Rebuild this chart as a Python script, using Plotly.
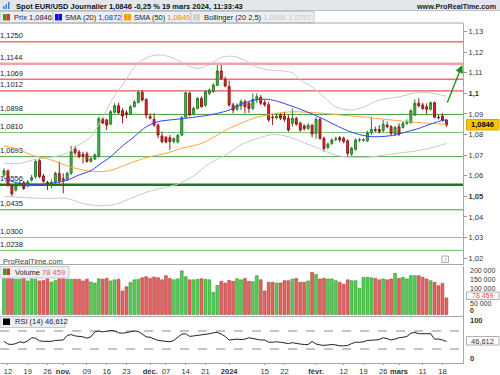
import pandas as pd
import plotly.graph_objects as go

# ---------------- data ----------------
holidays = ["2023-12-25", "2024-01-01"]
dates = [d.strftime("%Y-%m-%d") for d in pd.bdate_range("2023-10-11", "2024-03-19")
         if d.strftime("%Y-%m-%d") not in holidays]

opens = [1.0604, 1.0623, 1.0550, 1.0531, 1.0558, 1.0567, 1.0550, 1.0579, 1.0596, 1.0673,
         1.0599, 1.0568, 1.0562, 1.0571, 1.0612, 1.0586, 1.0583, 1.0612, 1.0732, 1.0715,
         1.0704, 1.0706, 1.0670, 1.0681, 1.0693, 1.0876, 1.0871, 1.0851, 1.0908, 1.0940,
         1.0916, 1.0906, 1.0900, 1.0935, 1.0955, 1.1005, 1.0971, 1.0887, 1.0874, 1.0846,
         1.0793, 1.0787, 1.0785, 1.0766, 1.0764, 1.0798, 1.0884, 1.1000, 1.0898, 1.0927,
         1.0976, 1.0942, 1.1000, 1.1008, 1.1039, 1.1109, 1.1068, 1.1033, 1.0944, 1.0923,
         1.0939, 1.0960, 1.0952, 1.0927, 1.0971, 1.0981, 1.0955, 1.0945, 1.0884, 1.0882,
         1.0895, 1.0890, 1.0879, 1.0855, 1.0879, 1.0855, 1.0842, 1.0830, 1.0845, 1.0806,
         1.0874, 1.0782, 1.0738, 1.0757, 1.0777, 1.0785, 1.0782, 1.0770, 1.0706, 1.0728,
         1.0774, 1.0772, 1.0770, 1.0809, 1.0825, 1.0825, 1.0819, 1.0846, 1.0838, 1.0803,
         1.0838, 1.0835, 1.0855, 1.0858, 1.0895, 1.0952, 1.0944, 1.0935, 1.0923, 1.0955,
         1.0884, 1.0890, 1.0871]
highs = [1.0636, 1.0631, 1.0555, 1.0567, 1.0576, 1.0576, 1.0579, 1.0604, 1.0680, 1.0683,
         1.0609, 1.0576, 1.0583, 1.0620, 1.0669, 1.0612, 1.0620, 1.0745, 1.0745, 1.0725,
         1.0717, 1.0717, 1.0693, 1.0709, 1.0887, 1.0884, 1.0877, 1.0919, 1.0952, 1.0955,
         1.0927, 1.0919, 1.0944, 1.0968, 1.1013, 1.1016, 1.0976, 1.0903, 1.0903, 1.0855,
         1.0814, 1.0793, 1.0798, 1.0787, 1.0803, 1.0890, 1.1008, 1.1008, 1.0935, 1.0981,
         1.0984, 1.1016, 1.1024, 1.1049, 1.1138, 1.1138, 1.1081, 1.1062, 1.0955, 1.0952,
         1.0971, 1.0971, 1.0960, 1.1000, 1.1000, 1.0992, 1.0968, 1.0960, 1.0900, 1.0903,
         1.0906, 1.0911, 1.0895, 1.0927, 1.0887, 1.0863, 1.0850, 1.0855, 1.0851, 1.0884,
         1.0884, 1.0790, 1.0761, 1.0782, 1.0790, 1.0793, 1.0790, 1.0777, 1.0741, 1.0782,
         1.0783, 1.0782, 1.0819, 1.0887, 1.0838, 1.0846, 1.0871, 1.0863, 1.0846, 1.0842,
         1.0855, 1.0863, 1.0874, 1.0923, 1.0971, 1.0976, 1.0955, 1.0952, 1.0960, 1.0960,
         1.0895, 1.0903, 1.0874]
lows = [1.0592, 1.0547, 1.0499, 1.0523, 1.0547, 1.0531, 1.0544, 1.0571, 1.0586, 1.0588,
        1.0567, 1.0531, 1.0539, 1.0560, 1.0563, 1.0515, 1.0576, 1.0604, 1.0701, 1.0685,
        1.0660, 1.0664, 1.0664, 1.0677, 1.0690, 1.0851, 1.0822, 1.0846, 1.0903, 1.0900,
        1.0855, 1.0879, 1.0895, 1.0931, 1.0952, 1.0961, 1.0879, 1.0874, 1.0838, 1.0782,
        1.0757, 1.0757, 1.0725, 1.0757, 1.0757, 1.0793, 1.0879, 1.0890, 1.0893, 1.0923,
        1.0931, 1.0935, 1.0992, 1.1003, 1.1036, 1.1065, 1.1029, 1.0935, 1.0903, 1.0916,
        1.0919, 1.0903, 1.0906, 1.0919, 1.0952, 1.0944, 1.0935, 1.0863, 1.0846, 1.0874,
        1.0871, 1.0861, 1.0814, 1.0838, 1.0843, 1.0814, 1.0819, 1.0822, 1.0787, 1.0780,
        1.0774, 1.0717, 1.0728, 1.0749, 1.0767, 1.0764, 1.0757, 1.0693, 1.0696, 1.0722,
        1.0764, 1.0766, 1.0764, 1.0798, 1.0812, 1.0806, 1.0812, 1.0830, 1.0798, 1.0793,
        1.0793, 1.0829, 1.0846, 1.0851, 1.0890, 1.0932, 1.0919, 1.0900, 1.0916, 1.0879,
        1.0874, 1.0863, 1.0838]
closes = [1.0625, 1.0555, 1.0512, 1.0554, 1.0563, 1.0539, 1.0570, 1.0591, 1.0669, 1.0596,
          1.0573, 1.0565, 1.0567, 1.0612, 1.0576, 1.0579, 1.0612, 1.0717, 1.0712, 1.0693,
          1.0696, 1.0669, 1.0683, 1.0701, 1.0877, 1.0856, 1.0846, 1.0911, 1.0940, 1.0906,
          1.0890, 1.0897, 1.0935, 1.0958, 1.1005, 1.0968, 1.0895, 1.0880, 1.0846, 1.0798,
          1.0766, 1.0764, 1.0766, 1.0780, 1.0796, 1.0882, 1.1003, 1.0895, 1.0927, 1.0976,
          1.0935, 1.1008, 1.1016, 1.1041, 1.1109, 1.1073, 1.1036, 1.0944, 1.0919, 1.0944,
          1.0960, 1.0935, 1.0927, 1.0971, 1.0984, 1.0952, 1.0945, 1.0871, 1.0882, 1.0890,
          1.0879, 1.0874, 1.0822, 1.0879, 1.0851, 1.0822, 1.0829, 1.0845, 1.0803, 1.0874,
          1.0782, 1.0733, 1.0754, 1.0774, 1.0779, 1.0774, 1.0766, 1.0709, 1.0733, 1.0774,
          1.0775, 1.0775, 1.0809, 1.0825, 1.0821, 1.0814, 1.0850, 1.0838, 1.0806, 1.0835,
          1.0803, 1.0855, 1.0863, 1.0916, 1.0952, 1.0940, 1.0927, 1.0923, 1.0955, 1.0884,
          1.0882, 1.0871, 1.0846]
volumes = [175000, 172000, 172000, 168000, 168000, 175000, 160000, 170000, 168000, 160000,
           162000, 170000, 155000, 162000, 170000, 172000, 168000, 168000, 168000, 168000,
           160000, 168000, 155000, 150000, 170000, 168000, 172000, 160000, 165000, 168000,
           112000, 132000, 152000, 165000, 168000, 175000, 180000, 172000, 178000, 175000,
           165000, 185000, 172000, 165000, 170000, 208000, 180000, 165000, 165000, 168000,
           170000, 168000, 165000, 106000, 138000, 158000, 150000, 162000, 158000, 170000,
           165000, 172000, 158000, 156000, 185000, 165000, 112000, 153000, 153000, 150000,
           150000, 161000, 161000, 169000, 172000, 153000, 153000, 160000, 201000, 191000,
           169000, 172000, 169000, 169000, 161000, 153000, 144000, 165000, 161000, 161000,
           125000, 177000, 177000, 175000, 172000, 165000, 169000, 165000, 169000, 196000,
           172000, 177000, 169000, 185000, 185000, 185000, 177000, 169000, 161000, 153000,
           137000, 148000, 78459]
rsi = [47, 41, 40, 42, 46, 44, 48, 55, 54, 48, 47, 47, 47, 49, 50, 50, 60, 62, 59, 58,
       57, 54, 57, 68, 70, 68, 69, 71, 70, 66, 65, 66, 68, 70, 69, 63, 57, 56, 53, 49,
       48, 47, 46, 49, 55, 63, 64, 58, 59, 60, 62, 63, 64, 66, 67, 63, 58, 50, 51, 52,
       51, 52, 55, 53, 52, 50, 50, 45, 45, 46, 45, 43, 42, 44, 42, 41, 40, 40, 47, 41,
       39, 38, 39, 40, 39, 37, 37, 38, 42, 45, 45, 46, 49, 49, 50, 51, 55, 53, 50, 52,
       55, 56, 58, 65, 67, 64, 64, 63, 64, 52, 52, 50, 46.612]

sma20_idx = [0, 3, 6, 10, 14, 16, 19, 22, 24, 27, 30, 33, 36, 39, 42, 45, 48, 51, 54, 57,
             60, 63, 65, 67, 69, 72, 75, 78, 81, 84, 87, 90, 93, 96, 99, 102, 105, 108, 110, 112]
sma20_val = [1.0588, 1.0567, 1.0560, 1.0560, 1.0570, 1.0579, 1.0604, 1.0625, 1.0652, 1.0693,
             1.0745, 1.0790, 1.0838, 1.0863, 1.0871, 1.0877, 1.0884, 1.0892, 1.0903, 1.0919,
             1.0947, 1.0966, 1.0971, 1.0971, 1.0963, 1.0944, 1.0923, 1.0900, 1.0874, 1.0845,
             1.0819, 1.0800, 1.0790, 1.0791, 1.0798, 1.0814, 1.0830, 1.0851, 1.0864, 1.0872]
sma50_idx = [0, 4, 7, 12, 16, 20, 24, 27, 33, 37, 41, 45, 50, 54, 57, 60, 64, 69, 73, 77,
             81, 85, 90, 94, 98, 102, 107, 111, 112]
sma50_val = [1.0746, 1.0725, 1.0701, 1.0677, 1.0648, 1.0628, 1.0620, 1.0626, 1.0669, 1.0693,
             1.0709, 1.0733, 1.0757, 1.0798, 1.0830, 1.0855, 1.0884, 1.0903, 1.0911, 1.0908,
             1.0903, 1.0895, 1.0887, 1.0879, 1.0871, 1.0863, 1.0855, 1.0851, 1.0849]
boll_up_idx = [0, 4, 8, 12, 16, 19, 22, 24, 26, 28, 30, 32, 34, 37, 40, 43, 46, 49, 52, 55,
               58, 61, 64, 67, 70, 73, 75, 78, 81, 84, 88, 91, 95, 100, 104, 108, 112]
boll_up_val = [1.0660, 1.0660, 1.0680, 1.0690, 1.0710, 1.0750, 1.0790, 1.0850, 1.0920, 1.0990,
               1.1040, 1.1100, 1.1147, 1.1180, 1.1186, 1.1170, 1.1140, 1.1120, 1.1140, 1.1175,
               1.1180, 1.1160, 1.1128, 1.1114, 1.1110, 1.1100, 1.1065, 1.1031, 1.0983, 1.0934,
               1.0919, 1.0934, 1.0968, 1.0983, 1.1002, 1.1002, 1.0986]
boll_lo_idx = [0, 10, 16, 20, 24, 28, 32, 36, 40, 44, 48, 52, 56, 60, 64, 68, 72, 76, 80, 84,
               88, 92, 96, 100, 104, 108, 112]
boll_lo_val = [1.0500, 1.0490, 1.0490, 1.0465, 1.0455, 1.0460, 1.0490, 1.0520, 1.0540, 1.0560,
               1.0600, 1.0660, 1.0700, 1.0750, 1.0780, 1.0800, 1.0790, 1.0760, 1.0730, 1.0700,
               1.0690, 1.0690, 1.0700, 1.0710, 1.0720, 1.0735, 1.0757]

levels = [1.1250, 1.1144, 1.1069, 1.1012, 1.0898, 1.0810, 1.0693, 1.0556, 1.0435, 1.0300, 1.0238]
level_labels = ["1,1250", "1,1144", "1,1069", "1,1012", "1,0898", "1,0810", "1,0693",
                "1,0556", "1,0435", "1,0300", "1,0238"]
level_colors = ["#e8292b", "#f3a3a3", "#e8292b", "#e8292b", "#3d9c3d", "#7ec27e", "#4ea64e",
                "#1d7a1d", "#3d9c3d", "#86c786", "#6cb86c"]
level_widths = [1, 2.5, 1, 1, 1, 1, 1, 2.5, 1, 1, 1]

price_ticks = [1.02, 1.03, 1.04, 1.05, 1.06, 1.07, 1.08, 1.09, 1.10, 1.11, 1.12, 1.13]
price_tick_text = ["1,02", "1,03", "1,04", "<b>1,05</b>", "1,06", "1,07", "1,08", "1,09",
                   "<b>1,1</b>", "1,11", "1,12", "1,13"]
date_ticks = ["2023-10-12", "2023-10-19", "2023-10-26", "2023-11-01", "2023-11-09",
              "2023-11-16", "2023-11-23", "2023-12-01", "2023-12-07", "2023-12-14",
              "2023-12-21", "2024-01-02", "2024-01-15", "2024-01-22", "2024-02-01",
              "2024-02-12", "2024-02-19", "2024-02-26", "2024-03-01", "2024-03-11", "2024-03-18"]
date_tick_text = ["12", "19", "26", "<b>nov.</b>", "09", "16", "23", "<b>déc.</b>", "07", "14", "21",
                  "<b>2024</b>", "15", "22", "<b>févr.</b>", "12", "19", "26", "<b>mars</b>", "11", "18"]
vol_tick_text = ["200 000", "150 000", "100 000", "50 000", "<b>0</b>"]
arrow_from = (112.1, 1.0949)
arrow_to = (116.0, 1.1138)

# ---------------- figure ----------------
W, H = 500, 375
FONT = "Liberation Sans, Arial, sans-serif"


def px(x):
    return x / W


def py(y):
    return 1 - y / H


fig = go.Figure()

up_col, dn_col = "#3cc43c", "#e42a2a"
vol_colors = ["#55cc55" if c >= o else "#e46262" for o, c in zip(opens, closes)]
vol_lines = ["#2f9a2f" if c >= o else "#b23a3a" for o, c in zip(opens, closes)]

fig.add_trace(go.Candlestick(x=dates, open=opens, high=highs, low=lows, close=closes,
                             increasing=dict(line=dict(color="#2c7a2c", width=1), fillcolor=up_col),
                             decreasing=dict(line=dict(color="#8e1c1c", width=1), fillcolor=dn_col),
                             whiskerwidth=0, xaxis="x", yaxis="y"))

for xs, ys in [(boll_up_idx, boll_up_val), (boll_lo_idx, boll_lo_val)]:
    fig.add_trace(go.Scatter(x=[dates[i] for i in xs], y=ys, mode="lines",
                             line=dict(color="#c9c9c9", width=1, shape="spline", smoothing=0.8),
                             xaxis="x", yaxis="y", hoverinfo="skip"))

fig.add_trace(go.Scatter(x=[dates[i] for i in sma50_idx], y=sma50_val, mode="lines",
                         line=dict(color="#ffa53a", width=1, shape="spline", smoothing=0.8),
                         xaxis="x", yaxis="y"))
fig.add_trace(go.Scatter(x=[dates[i] for i in sma20_idx], y=sma20_val, mode="lines",
                         line=dict(color="#3a3aff", width=1, shape="spline", smoothing=0.8),
                         xaxis="x", yaxis="y"))

fig.add_trace(go.Bar(x=dates, y=volumes, marker=dict(color=vol_colors, line=dict(color=vol_lines, width=0.6)),
                     xaxis="x2", yaxis="y2"))

fig.add_trace(go.Scatter(x=dates, y=rsi, mode="lines", line=dict(color="#222222", width=1),
                         xaxis="x3", yaxis="y3"))

xr = [-1.01, 116.2]
common_x = dict(type="category", categoryorder="array", categoryarray=dates, range=xr,
                domain=[0, px(463)], showgrid=False, zeroline=False,
                showticklabels=False, ticks="", showline=True, linecolor="#a8a8a8", linewidth=1,
                rangeslider=dict(visible=False), fixedrange=True)

fig.update_layout(
    width=W, height=H, margin=dict(l=0, r=0, t=0, b=0, pad=0),
    paper_bgcolor="white", plot_bgcolor="white", showlegend=False,
    font=dict(family=FONT, size=7.5, color="#333"),
    bargap=0.28,
    xaxis=dict(common_x, anchor="y"),
    xaxis2=dict(common_x, anchor="y2", matches="x"),
    xaxis3=dict(common_x, anchor="y3", matches="x", showticklabels=True, tickvals=date_ticks,
                ticktext=date_tick_text, ticks="outside", ticklen=1, tickcolor="#999",
                tickangle=0, tickfont=dict(size=7.5, color="#333", family=FONT)),
    yaxis=dict(domain=[py(264), py(23)], range=[1.01718, 1.13417], side="right", anchor="x",
               tickvals=price_ticks, ticktext=price_tick_text, ticks="outside", ticklen=3,
               tickcolor="#999", tickfont=dict(size=7.5, color="#333", family=FONT),
               showgrid=False, zeroline=False, showline=True, linecolor="#a8a8a8", fixedrange=True),
    yaxis2=dict(domain=[py(315.5), py(266)], range=[-4762, 230957], side="right", anchor="x2",
                showticklabels=False, showgrid=False, zeroline=False, showline=True,
                linecolor="#a8a8a8", fixedrange=True),
    yaxis3=dict(domain=[py(363), py(316)], range=[-1.11, 103.3], side="right", anchor="x3",
                showticklabels=False, showgrid=False, zeroline=False, showline=True,
                linecolor="#a8a8a8", fixedrange=True),
)

shapes = []
for lv, lb, c, w in zip(levels, level_labels, level_colors, level_widths):
    shapes.append(dict(type="line", xref="x domain", yref="y", x0=0, x1=1, y0=lv, y1=lv,
                       layer="below", line=dict(color=c, width=w),
                       label=dict(text=lb, textposition="start", yanchor="bottom", padding=2,
                                  font=dict(size=7.5, color="#222", family=FONT))))
for lv in [70, 30]:
    shapes.append(dict(type="line", xref="x3 domain", yref="y3", x0=0, x1=1, y0=lv, y1=lv,
                       line=dict(color="#8a8a8a", width=1, dash="dash"), layer="below"))
shapes.append(dict(type="rect", xref="paper", yref="paper", x0=0, x1=1, y0=py(10.5), y1=1,
                   fillcolor="#e3e7eb", line=dict(width=0), layer="below"))
shapes.append(dict(type="line", xref="paper", yref="paper", x0=0, x1=1, y0=py(10.5), y1=py(10.5),
                   line=dict(color="#b9c1c8", width=1)))
for x0, x1 in [(0, 53), (53, 122), (122, 191), (191, 314)]:
    shapes.append(dict(type="rect", xref="paper", yref="paper", x0=px(x0), x1=px(x1),
                       y0=py(23), y1=py(11.5), fillcolor="#eceff2",
                       line=dict(color="#c3c9cf", width=1)))
shapes.append(dict(type="line", xref="paper", yref="paper", x0=0, x1=px(463), y0=py(23), y1=py(23),
                   line=dict(color="#a8a8a8", width=1)))
icons = [(3, "#2fa02f", "#e03030"), (55, "#1010ee", "#1010ee"), (124, "#ff9a20", "#ff9a20"),
         (193, "#d0d0d0", "#d0d0d0")]
for x0, c1, c2 in icons:
    shapes.append(dict(type="rect", xref="paper", yref="paper", x0=px(x0), x1=px(x0 + 3.5),
                       y0=py(20.5), y1=py(14), fillcolor=c1, line=dict(width=0)))
    shapes.append(dict(type="rect", xref="paper", yref="paper", x0=px(x0 + 3.5), x1=px(x0 + 7),
                       y0=py(20.5), y1=py(14), fillcolor=c2, line=dict(width=0)))
for k, hgt in enumerate([3, 5, 7]):
    shapes.append(dict(type="rect", xref="paper", yref="paper", x0=px(3 + 2.5 * k), x1=px(4.5 + 2.5 * k),
                       y0=py(9), y1=py(9 - hgt), fillcolor="#3a7fd0", line=dict(width=0)))
shapes.append(dict(type="rect", xref="paper", yref="paper", x0=px(0), x1=px(69), y0=py(278), y1=py(266.5),
                   fillcolor="#eceff2", line=dict(color="#c3c9cf", width=1)))
shapes.append(dict(type="rect", xref="paper", yref="paper", x0=px(3), x1=px(6.5), y0=py(275), y1=py(268.5),
                   fillcolor="#2fa02f", line=dict(width=0)))
shapes.append(dict(type="rect", xref="paper", yref="paper", x0=px(6.5), x1=px(10), y0=py(275), y1=py(268.5),
                   fillcolor="#e03030", line=dict(width=0)))
shapes.append(dict(type="rect", xref="paper", yref="paper", x0=px(0), x1=px(65), y0=py(327.5), y1=py(316.5),
                   fillcolor="#eceff2", line=dict(color="#c3c9cf", width=1)))
shapes.append(dict(type="rect", xref="paper", yref="paper", x0=px(3), x1=px(10), y0=py(325), y1=py(318.5),
                   fillcolor="#000000", line=dict(width=0)))
shapes.append(dict(type="rect", xref="paper", yref="paper", x0=px(466.5), x1=px(499), y0=py(130), y1=py(119.5),
                   fillcolor="#f7c600", line=dict(color="#d8a800", width=1)))
shapes.append(dict(type="rect", xref="paper", yref="paper", x0=px(466.5), x1=px(499), y0=py(299.5), y1=py(292),
                   fillcolor="white", line=dict(color="#b0b0b0", width=1)))
shapes.append(dict(type="rect", xref="paper", yref="paper", x0=px(466.5), x1=px(499), y0=py(345), y1=py(336.5),
                   fillcolor="white", line=dict(color="#b0b0b0", width=1)))
shapes.append(dict(type="rect", xref="paper", yref="paper", x0=px(442), x1=px(448.5), y0=py(262.5), y1=py(256),
                   fillcolor="white", line=dict(color="#aaaaaa", width=1)))
fig.update_layout(shapes=shapes)

ann = []


def txt(x, y, s, size=7.5, color="#222", bold=False, anchor="left"):
    if bold:
        s = "<b>" + s + "</b>"
    ann.append(dict(x=px(x), y=py(y), xref="paper", yref="paper", text=s, showarrow=False,
                    xanchor=anchor, yanchor="middle", font=dict(size=size, color=color, family=FONT)))


txt(14, 6, "Spot EUR/USD Journalier 1,0846 -0,25 % 19 mars 2024, 11:33:43", bold=True, color="#111")
txt(498, 6, "www.ProRealTime.com", size=7.2, bold=True, color="#222", anchor="right")
txt(12, 17.5, "Prix 1,0846")
txt(63, 17.5, "SMA (20) <span style='color:#1a1aff'>1,0872</span>")
txt(132, 17.5, "SMA (50) <span style='color:#f08a10'>1,0849</span>")
txt(202, 17.5, "Bollinger (20 2,5) <span style='color:#c8c8c8'>1,0986 1,0757</span>")
txt(1, 261, "ProRealTime.com", color="#444")
txt(13, 272, "Volume <span style='color:#e06060'>78 459</span>")
txt(13, 321.5, "RSI (14) 46,612")
txt(482.5, 125, "1,0846", bold=True, color="#000", anchor="center")
txt(482.5, 295.8, "78 459", size=7, color="#e05050", anchor="center")
txt(482.5, 341, "46,612", color="#333", anchor="center")
txt(445.3, 259.3, "i", size=6, color="#777", anchor="center")
vol_label_y = [270, 279.5, 288, 303.3, 310.8]
for s, yy in zip(vol_tick_text, vol_label_y):
    txt(468, yy, s, size=7, color="#333")
txt(468, 320, "100", bold=True, color="#333")
txt(468, 358, "0", bold=True, color="#333")

ann.append(dict(x=arrow_to[0], y=arrow_to[1], ax=arrow_from[0], ay=arrow_from[1],
                xref="x", yref="y", axref="x", ayref="y", showarrow=True, text="",
                arrowhead=2, arrowsize=1.2, arrowwidth=1.3, arrowcolor="#1b8a1b"))
fig.update_layout(annotations=ann)

fig.write_html("out.html", config={"displayModeBar": False, "staticPlot": True},
               post_script="document.body.style.margin='0px';document.body.style.overflow='hidden';")
